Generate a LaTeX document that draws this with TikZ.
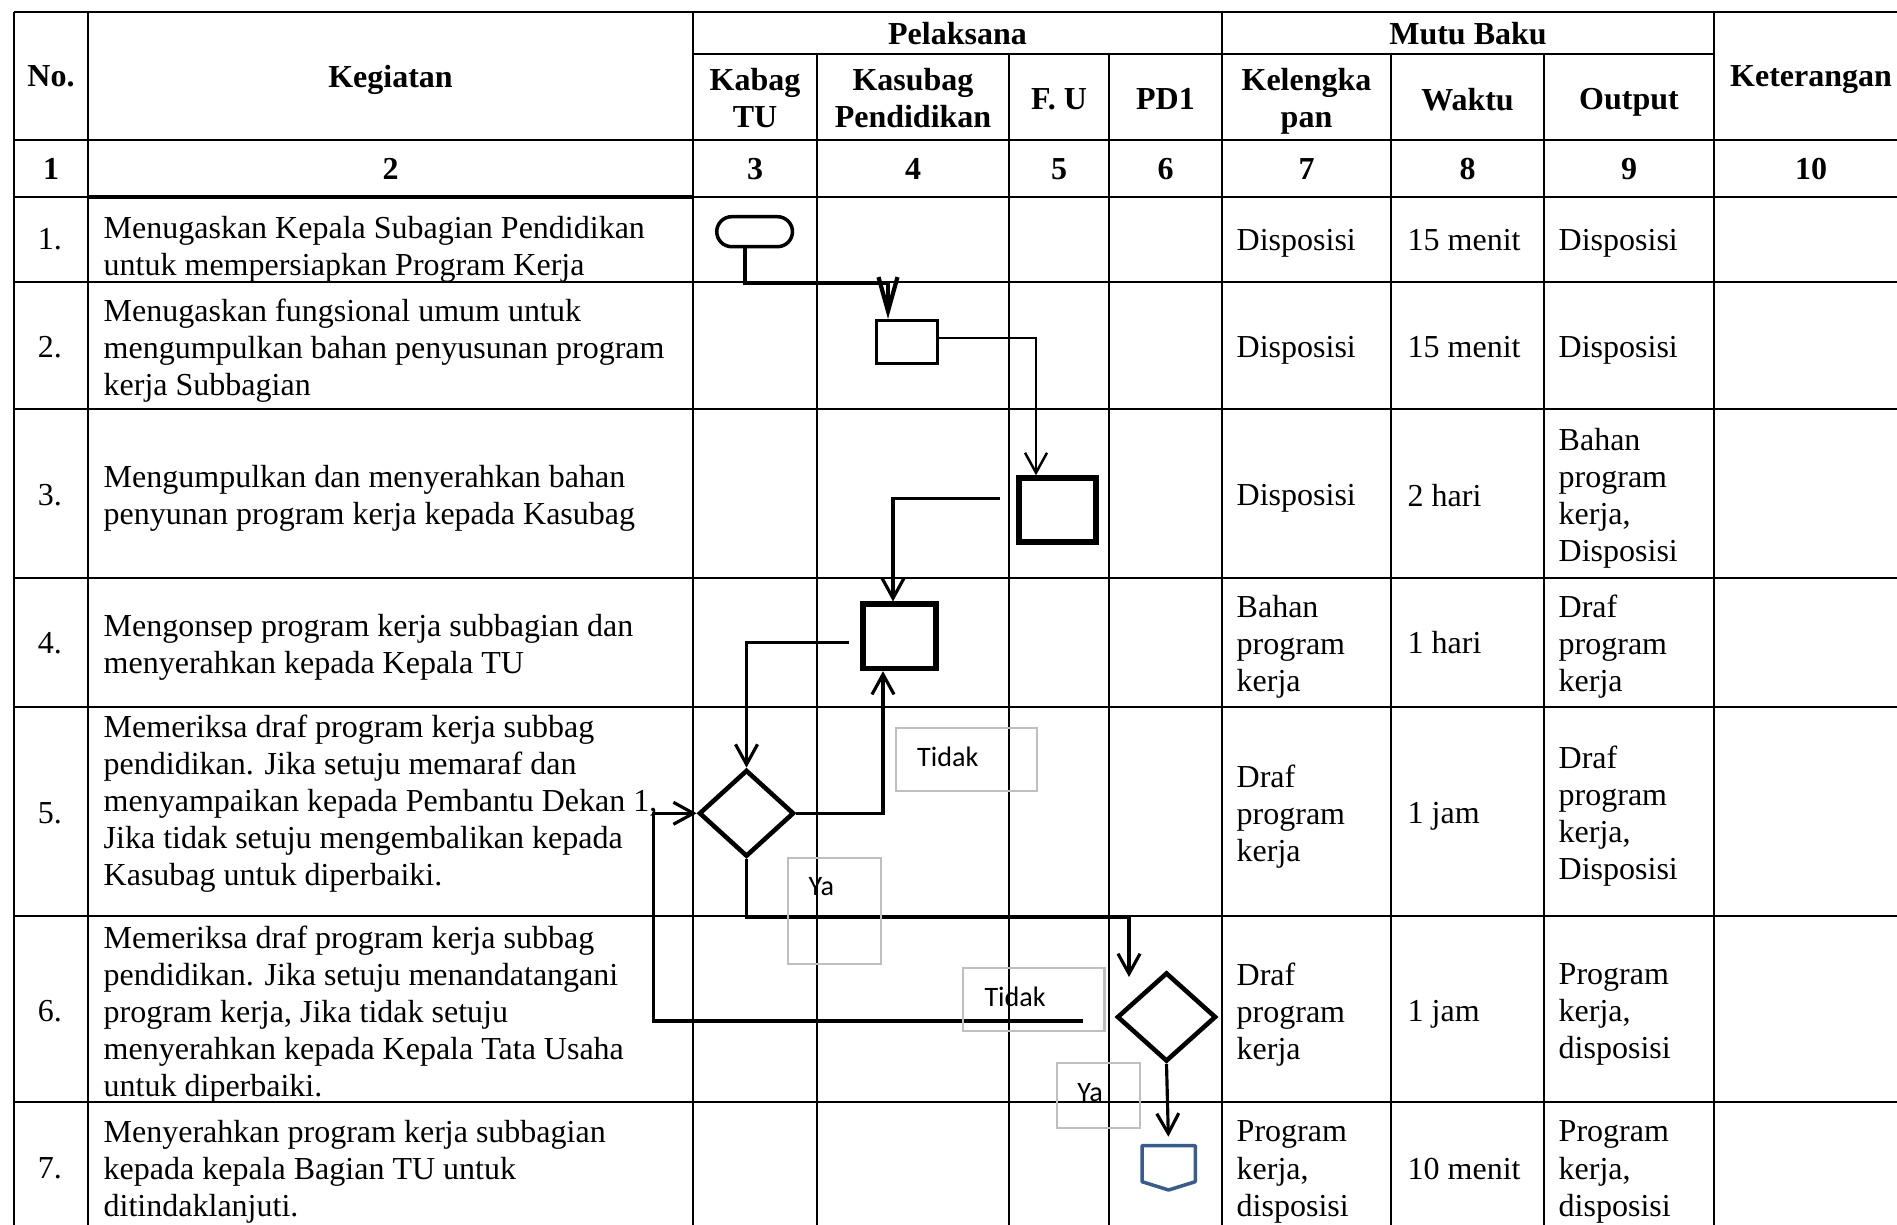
\documentclass[tikz,border=0pt]{standalone}
\usepackage{fontspec}
\setmainfont{Liberation Serif}
\newfontfamily\lblfont{Carlito}
\usetikzlibrary{shapes.geometric,arrows.meta}

\definecolor{lblgray}{RGB}{191,191,191}
\definecolor{opcblue}{RGB}{56,93,138}
\newcommand{\tabfont}{\fontsize{9.1}{10.55}\selectfont}

\tikzset{
  tline/.style={line width=0.5pt},
  headtxt/.style={font=\tabfont\bfseries, align=center, inner sep=0pt, text depth=0pt},
  celltxt/.style={font=\tabfont, anchor=west, align=left, inner sep=0pt, text depth=0pt},
  numtxt/.style={font=\tabfont, inner sep=0pt},
  procbox/.style={draw, line width=1pt, inner sep=0pt},
  decision/.style={draw, diamond, line width=1.3pt, inner sep=0pt},
  flow/.style={line width=0.9pt, -{Straight Barb[length=2mm,width=2.2mm]}},
  lblbox/.style={draw=lblgray, line width=0.6pt, inner sep=0pt},
  lbltext/.style={font=\lblfont\fontsize{8}{9.6}\selectfont, inner sep=0pt, anchor=west}
}

\begin{document}
\begin{tikzpicture}[x=0.01cm, y=-0.01cm]
    \useasboundingbox (0,0) rectangle (1897,1225);

    % Table lines
    \draw[tline] (14,12) -- (1897,12);
    \draw[line width=0.8pt] (693,54) -- (1714,54);
    \draw[tline] (14,140) -- (1897,140);
    \draw[tline] (14,197) -- (1897,197);
    \draw[line width=0.9pt] (88,197) -- (693,197);
    \draw[tline] (14,282) -- (1897,282);
    \draw[tline] (14,409) -- (1897,409);
    \draw[tline] (14,578) -- (1897,578);
    \draw[tline] (14,707) -- (1897,707);
    \draw[tline] (14,916) -- (1897,916);
    \draw[tline] (14,1102) -- (1897,1102);

    \draw[tline] (14,12) -- (14,1225);
    \draw[tline] (88,12) -- (88,1225);
    \draw[tline] (693,12) -- (693,1225);
    \draw[tline] (817,54) -- (817,1225);
    \draw[tline] (1009,54) -- (1009,1225);
    \draw[tline] (1109,54) -- (1109,1225);
    \draw[tline] (1222,12) -- (1222,1225);
    \draw[tline] (1391,54) -- (1391,1225);
    \draw[tline] (1544,54) -- (1544,1225);
    \draw[tline] (1714,12) -- (1714,1225);

    % Header
    \node[headtxt] (hno) at (51,76) {No.};
    \node[headtxt] (hkeg) at (390.5,76) {Kegiatan};
    \node[headtxt] (hpel) at (957.5,33) {Pelaksana};
    \node[headtxt] (hmutu) at (1468,33) {Mutu Baku};
    \node[headtxt] (hket) at (1811,76) {Keterangan};
    \node[headtxt] (hkabag) at (755,98) {Kabag\\TU};
    \node[headtxt] (hkasubag) at (913,98) {Kasubag\\Pendidikan};
    \node[headtxt] (hfu) at (1059,99) {F. U};
    \node[headtxt] (hpd) at (1165.5,99) {PD1};
    \node[headtxt] (hkel) at (1306.5,98) {Kelengka\\pan};
    \node[headtxt] (hwaktu) at (1467.5,99) {Waktu};
    \node[headtxt] (hout) at (1629,99) {Output};

    \node[headtxt] (c1) at (51,169) {1};
    \node[headtxt] (c2) at (390.5,169) {2};
    \node[headtxt] (c3) at (755,169) {3};
    \node[headtxt] (c4) at (913,169) {4};
    \node[headtxt] (c5) at (1059,169) {5};
    \node[headtxt] (c6) at (1165.5,169) {6};
    \node[headtxt] (c7) at (1306.5,169) {7};
    \node[headtxt] (c8) at (1467.5,169) {8};
    \node[headtxt] (c9) at (1629,169) {9};
    \node[headtxt] (c10) at (1811,169) {10};

    % Rows
    \node[numtxt] (n1) at (50,239.5) {1.};
    \node[celltxt] (k1) at (103,245.6) {Menugaskan Kepala Subagian Pendidikan\\untuk mempersiapkan Program Kerja};
    \node[celltxt] (l1) at (1236,239.5) {Disposisi};
    \node[celltxt] (w1) at (1407,239.5) {15 menit};
    \node[celltxt] (o1) at (1558,239.5) {Disposisi};

    \node[numtxt] (n2) at (50,347) {2.};
    \node[celltxt] (k2) at (103,347) {Menugaskan fungsional umum untuk\\mengumpulkan bahan penyusunan program\\kerja Subbagian};
    \node[celltxt] (l2) at (1236,347) {Disposisi};
    \node[celltxt] (w2) at (1407,347) {15 menit};
    \node[celltxt] (o2) at (1558,347) {Disposisi};

    \node[numtxt] (n3) at (50,495) {3.};
    \node[celltxt] (k3) at (103,495) {Mengumpulkan dan menyerahkan bahan\\penyunan program kerja kepada Kasubag};
    \node[celltxt] (l3) at (1236,495) {Disposisi};
    \node[celltxt] (w3) at (1407,495) {2 hari};
    \node[celltxt] (o3) at (1558,495) {Bahan\\program\\kerja,\\Disposisi};

    \node[numtxt] (n4) at (50,643) {4.};
    \node[celltxt] (k4) at (103,643.6) {Mengonsep program kerja subbagian dan\\menyerahkan kepada Kepala TU};
    \node[celltxt] (l4) at (1236,643.6) {Bahan\\program\\kerja};
    \node[celltxt] (w4) at (1407,642) {1 hari};
    \node[celltxt] (o4) at (1558,643.6) {Draf\\program\\kerja};

    \node[numtxt] (n5) at (50,813) {5.};
    \node[celltxt] (k5) at (103,800) {Memeriksa draf program kerja subbag\\pendidikan. Jika setuju memaraf dan\\menyampaikan kepada Pembantu Dekan 1,\\Jika tidak setuju mengembalikan kepada\\Kasubag untuk diperbaiki.};
    \node[celltxt] (l5) at (1236,813) {Draf\\program\\kerja};
    \node[celltxt] (w5) at (1407,813) {1 jam};
    \node[celltxt] (o5) at (1558,813) {Draf\\program\\kerja,\\Disposisi};

    \node[numtxt] (n6) at (50,1011) {6.};
    \node[celltxt] (k6) at (103,1011) {Memeriksa draf program kerja subbag\\pendidikan. Jika setuju menandatangani\\program kerja, Jika tidak setuju\\menyerahkan kepada Kepala Tata Usaha\\untuk diperbaiki.};
    \node[celltxt] (l6) at (1236,1011) {Draf\\program\\kerja};
    \node[celltxt] (w6) at (1407,1011) {1 jam};
    \node[celltxt] (o6) at (1558,1011) {Program\\kerja,\\disposisi};

    \node[numtxt] (n7) at (50,1168.6) {7.};
    \node[celltxt] (k7) at (103,1168.6) {Menyerahkan program kerja subbagian\\kepada kepala Bagian TU untuk\\ditindaklanjuti.};
    \node[celltxt] (l7) at (1236,1168.6) {Program\\kerja,\\disposisi};
    \node[celltxt] (w7) at (1407,1168.6) {10 menit};
    \node[celltxt] (o7) at (1558,1168.6) {Program\\kerja,\\disposisi};

    % Flow shapes
    \node[procbox, rounded corners=1.5mm, minimum width=0.757cm, minimum height=0.30cm] (mulai) at (754.6,231.7) {};
    \node[procbox, minimum width=0.614cm, minimum height=0.426cm] (kasubag1) at (907,342) {};
    \node[procbox, line width=1.6pt, minimum width=0.77cm, minimum height=0.637cm] (fu) at (1057.5,510) {};
    \node[procbox, line width=1.6pt, minimum width=0.73cm, minimum height=0.64cm] (kasubag2) at (899.7,636.3) {};
    \node[decision, minimum width=0.95cm, minimum height=0.867cm] (kabag) at (746.5,813.3) {};
    \node[decision, minimum width=0.99cm, minimum height=0.89cm] (pd) at (1166.5,1017) {};

    % Off-page connector
    \draw[opcblue, line width=1pt, line join=round] (1142,1145.7) -- (1195.3,1145.7) -- (1195.3,1181.7) -- (1168.6,1190) -- (1142,1181.7) -- cycle;
    \coordinate (keluar) at (1168.6,1145.7);

    % Bend points
    \coordinate (b1) at (888,283);
    \coordinate (b2) at (1036,338);
    \coordinate (f3) at (999.6,498.3);
    \coordinate (b3) at (893,498.3);
    \coordinate (f4) at (849.3,642.7);
    \coordinate (b5) at (883,815);
    \coordinate (b6) at (1129,917.7);
    \coordinate (b6e) at (1129,977);
    \coordinate (f7) at (1082.6,1021);
    \coordinate (b7) at (653.6,813.3);

    % Connectors
    \draw[flow, line width=1.2pt, -{Straight Barb[length=3.4mm,width=1.9mm]}] ([xshift=-0.096cm]mulai.south) |- (b1) -- (kasubag1.north -| b1);
    \draw[flow, line width=0.7pt] (kasubag1.east |- b2) -| (fu.north -| b2);
    \draw[flow] (f3) -- (b3) -- (kasubag2.north -| b3);
    \draw[flow] (f4) -| (kabag.north);
    \draw[flow] (kabag.east) -| (kasubag2.south -| b5);
    \draw[flow] (kabag.south) |- (b6) -- (b6e);
    \draw[flow] (f7) -| (b7) -- (kabag.west);
    \draw[flow, shorten >=0.09cm] (pd.south) -- (keluar);

    % Labels
    \node[lblbox, minimum width=1.414cm, minimum height=0.63cm] (tidak1box) at (966.3,759.2) {};
    \node[lbltext] (tidak1) at (916.5,756.7) {Tidak};
    \node[lblbox, minimum width=0.93cm, minimum height=1.066cm] (ya1box) at (834.5,911) {};
    \node[lbltext] (ya1) at (808,886.7) {Ya};
    \node[lblbox, minimum width=1.416cm, minimum height=0.63cm] (tidak2box) at (1033.6,999.2) {};
    \node[lbltext] (tidak2) at (983.8,996.7) {Tidak};
    \node[lblbox, minimum width=0.83cm, minimum height=0.65cm] (ya2box) at (1098.5,1095.5) {};
    \node[lbltext] (ya2) at (1076.7,1093) {Ya};
\end{tikzpicture}
\end{document}
